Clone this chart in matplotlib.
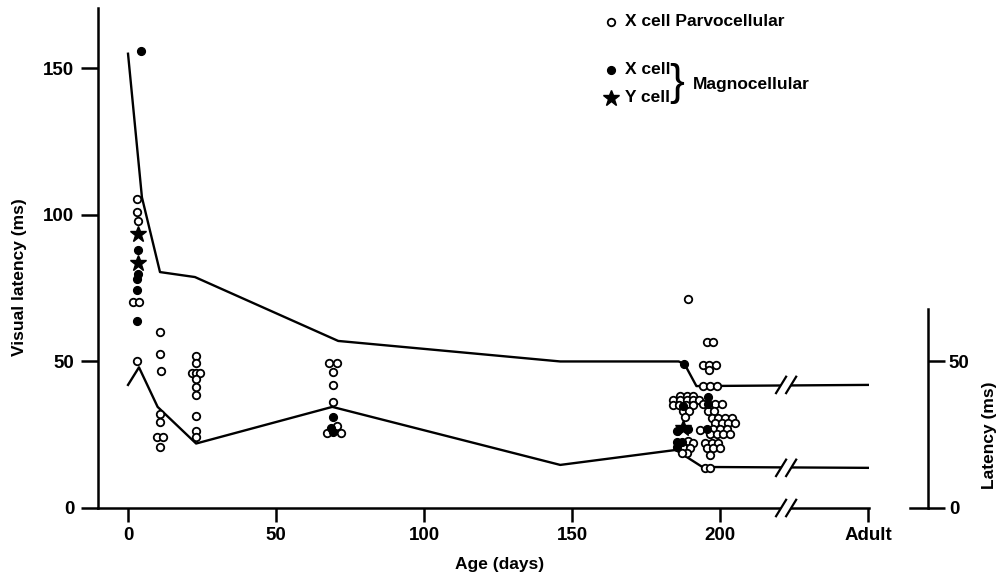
"""
Visual latency vs age (LGN cells)
"""

import numpy as np
import matplotlib
matplotlib.use("Agg")
import matplotlib.pyplot as plt

plt.rcParams['font.family'] = ['Liberation Sans', 'DejaVu Sans']
plt.rcParams['font.weight'] = 'bold'
plt.rcParams['axes.labelweight'] = 'bold'

# X cell parvocellular (open circles)
parvo_age = [3.0, 3.0, 3.4, 1.7, 3.7, 3.0,
             10.8, 10.8, 11.1, 10.8, 10.8, 9.8, 11.8, 10.8,
             23, 23, 21.6, 23, 24.3, 23, 23, 23, 23, 23, 23,
             67.9, 70.6, 69.3, 69.3, 69.3, 70.6, 67.2, 71.9,
             189.2, 195.6, 197.6, 194.3, 196.3, 198.6, 196.3, 194.3, 196.6, 198.9,
             186.5, 188.9, 190.9, 184.1, 186.5, 188.9, 190.9, 192.9,
             184.1, 186.1, 188.5, 190.9, 187.5, 189.5, 188.2,
             194.3, 198.3, 200.7, 195.9, 197.9,
             197.3, 199.3, 201.7, 204.1, 198.3, 200.7, 202.7, 205.1,
             197.6, 200.0, 202.4, 196.6, 198.9, 201.0, 203.4, 193.2,
             194.9, 197.3, 199.3, 195.6, 197.6, 200.0, 196.6,
             189.2, 190.9, 187.5, 189.9, 188.9, 187.2, 194.9, 196.6]
parvo_lat = [105.5, 101, 98, 70.3, 70.3, 50,
             60, 52.5, 46.8, 32, 29.4, 24.3, 24.3, 20.8,
             52, 49.5, 46, 46, 46, 44, 41.4, 38.6, 31.5, 26.3, 24.2,
             49.5, 49.5, 46.4, 42, 36.2, 28, 25.6, 25.6,
             71.3, 56.7, 56.7, 48.8, 48.8, 48.8, 47.1, 41.6, 41.6, 41.6,
             38.2, 38.2, 38.2, 36.9, 36.9, 36.9, 36.9, 36.9,
             35.2, 35.2, 35.2, 35.2, 33.1, 33.1, 31.0,
             35.5, 35.5, 35.5, 33.1, 33.1,
             30.7, 30.7, 30.7, 30.7, 29.0, 29.0, 29.0, 29.0,
             27.0, 27.0, 27.0, 25.3, 25.3, 25.3, 25.3, 26.6,
             22.2, 22.2, 22.2, 20.5, 20.5, 20.5, 18.1,
             22.9, 22.2, 20.8, 20.5, 18.8, 18.8, 13.7, 13.7]

# X cell magnocellular (filled circles)
magx_age = [4.4, 3.4, 3.4, 3.0, 3.0, 3.0,
            69.3, 68.6, 69.3,
            187.8, 187.5, 195.9, 195.9, 185.5, 189.2, 195.6, 185.5, 187.2, 185.5]
magx_lat = [156, 88, 80, 78, 74.4, 63.8,
            31, 27.3, 26,
            49.1, 34.9, 37.9, 35.5, 26.3, 27.0, 27.0, 22.5, 22.5, 20.8]

# Y cell magnocellular (stars)
magy_age = [3.4, 3.4, 187.5]
magy_lat = [93.5, 83.6, 27.3]

# upper / lower envelope lines (250 = adult)
upper_age = [0, 4.7, 10.8, 22.6, 71, 146, 186, 188, 192, 250]
upper_lat = [155, 106, 80.5, 78.8, 57, 50, 50, 49.1, 41.6, 42]
lower_age = [0, 3.7, 10, 23, 69, 146, 185, 194, 250]
lower_lat = [42, 48, 34.5, 22, 34.5, 14.7, 19.8, 14, 13.7]

xticks = [0, 50, 100, 150, 200, 250]
xticklabels = ['0', '50', '100', '150', '200', 'Adult']
yticks = [0, 50, 100, 150]
right_ticks = [0, 50]

breaks = (220.6, 224.0)  # position of the // marks


def draw_break(ax, y):
    # white gap and two slashes
    ax.plot(breaks, [y, y], color='white', lw=4, zorder=3, clip_on=False,
            solid_capstyle='butt')
    for b in breaks:
        ax.plot([b - 1.7, b + 1.7], [y - 2.8, y + 2.8], color='black', lw=1.6,
                zorder=4, clip_on=False)


if __name__ == '__main__':
    fig = plt.figure(figsize=(10.04, 5.82), dpi=100)
    ax = fig.add_axes([98 / 1004, 74 / 582, 771 / 1004, 500 / 582])
    ax.set_xlim(-10.14, 250.3)
    ax.set_ylim(0, 170.6)

    for s in ['top', 'right', 'bottom']:
        ax.spines[s].set_visible(False)
    ax.spines['left'].set_linewidth(1.8)

    # bottom axis line with break
    ax.plot([-10.14, 250.3], [0, 0], color='black', lw=1.8, clip_on=False, zorder=2)
    draw_break(ax, 0)

    ax.set_xticks(xticks)
    ax.set_xticklabels(xticklabels)
    ax.set_yticks(yticks)
    ax.tick_params(axis='x', direction='out', length=10, width=1.8, labelsize=13.5, pad=4)
    ax.tick_params(axis='y', direction='out', length=12, width=1.8, labelsize=13.5, pad=5)

    # lines
    ax.plot(upper_age, upper_lat, color='black', lw=1.7, zorder=2)
    ax.plot(lower_age, lower_lat, color='black', lw=1.7, zorder=2)
    draw_break(ax, upper_lat[-1])
    draw_break(ax, lower_lat[-1])

    # data points
    ax.plot(parvo_age, parvo_lat, 'o', ms=5.4, mfc='white', mec='black', mew=1.3,
            zorder=5, clip_on=False)
    ax.plot(magx_age, magx_lat, 'o', ms=5.6, color='black', zorder=6, clip_on=False)
    ax.plot(magy_age, magy_lat, '*', ms=12, color='black', zorder=6, clip_on=False)

    ax.set_ylabel('Visual latency (ms)', fontsize=12.5)
    ax.yaxis.set_label_coords(-0.092, 0.462)
    ax.set_xlabel('Age (days)', fontsize=12.5)
    ax.xaxis.set_label_coords(0.521, -0.098)

    # right axis
    ax2 = ax.twinx()
    ax2.set_ylim(0, 170.6)
    for s in ['top', 'left', 'bottom']:
        ax2.spines[s].set_visible(False)
    ax2.spines['right'].set_position(('axes', 1.0765))
    ax2.spines['right'].set_bounds(0, 68)
    ax2.spines['right'].set_linewidth(1.8)
    ax2.set_yticks(right_ticks)
    ax2.tick_params(axis='y', direction='out', length=12, width=1.8, labelsize=13.5, pad=3)
    ax2.plot([1.0532, 1.0765], [0, 0], color='black', lw=1.8,
             transform=ax2.get_yaxis_transform(), clip_on=False)
    ax2.set_ylabel('Latency (ms)', fontsize=12.5)
    ax2.yaxis.set_label_coords(1.1466, 0.146)

    # legend
    ax.plot([0.6654], [0.972], 'o', ms=5.4, mfc='white', mec='black', mew=1.3,
            transform=ax.transAxes, clip_on=False)
    ax.plot([0.6654], [0.876], 'o', ms=5.6, color='black',
            transform=ax.transAxes, clip_on=False)
    ax.plot([0.6654], [0.82], '*', ms=12, color='black',
            transform=ax.transAxes, clip_on=False)
    ax.text(0.6835, 0.972, 'X cell Parvocellular', transform=ax.transAxes,
            fontsize=12.5, va='center')
    ax.text(0.6835, 0.876, 'X cell', transform=ax.transAxes, fontsize=12.5, va='center')
    ax.text(0.6835, 0.82, 'Y cell', transform=ax.transAxes, fontsize=12.5, va='center')
    ax.text(0.751, 0.848, '}', transform=ax.transAxes, fontsize=32,
            fontweight='normal', va='center', ha='center')
    ax.text(0.7717, 0.848, 'Magnocellular', transform=ax.transAxes,
            fontsize=12.5, va='center')

    fig.savefig('out.png', dpi=100)
